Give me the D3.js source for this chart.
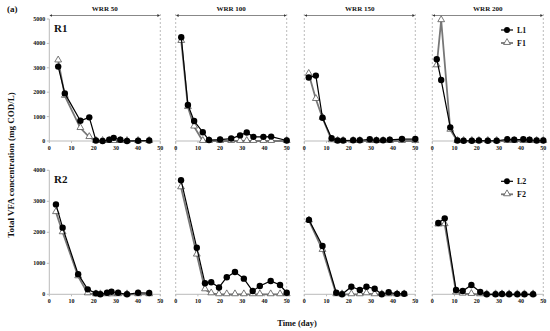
<!DOCTYPE html>
<html lang="en">
<head>
<meta charset="UTF-8">
<title>Total VFA concentration</title>
<script src="https://d3js.org/d3.v7.min.js"></script>
<style>
    body { margin: 0; background: #fff; }
    svg text { font-family: "Liberation Serif", "Times New Roman", serif; font-weight: bold; fill: #111; }
    .tick-label { font-size: 6px; }
    .axis-line { stroke: #bbb; stroke-width: 1px; }
    .divider { stroke: #aaa; stroke-width: 0.8px; stroke-dasharray: 2,2; }
    .line-L { fill: none; stroke: #000; stroke-width: 1.2px; }
    .line-F { fill: none; stroke: #777; stroke-width: 1.8px; }
</style>
</head>
<body>
<svg width="550" height="331"></svg>
<script>
    // phases (columns)
    const phases = ["WRR 50", "WRR 100", "WRR 150", "WRR 200"];
    const xTicks = [0, 10, 20, 30, 40, 50];
    const yTicksR1 = [0, 1000, 2000, 3000, 4000, 5000];
    const yTicksR2 = [0, 1000, 2000, 3000, 4000];

    // R1, WRR 50
    const r1w50Day = [4, 7, 14, 18, 21, 24, 27, 29, 32, 35, 40, 45];
    const r1w50L1 = [3050, 1950, 830, 970, 20, 0, 50, 130, 50, 0, 10, 20];
    const r1w50F1 = [3300, 1850, 530, 160, 0, 0, 0, 0, 0, 0, 0, 0];
    // R1, WRR 100
    const r1w100Day = [2.5, 5.5, 8.3, 12.2, 15, 20, 25, 29, 32, 35, 39.5, 43, 50];
    const r1w100L1 = [4250, 1480, 820, 360, 40, 60, 100, 230, 350, 170, 170, 180, 20];
    const r1w100F1 = [4100, 1390, 590, 0, 0, 0, 0, 0, 0, 0, 0, 0, 0];
    // R1, WRR 150
    const r1w150Day = [2, 5.2, 8.2, 12.3, 15, 17.5, 22, 25, 29.5, 32.5, 35.5, 38.5, 44, 50];
    const r1w150L1 = [2600, 2680, 950, 110, 20, 20, 30, 30, 70, 30, 30, 50, 80, 80];
    const r1w150F1 = [2750, 1720, 950, 30, 0, 0, 0, 0, 0, 0, 0, 0, 0, 0];
    // R1, WRR 200
    const r1w200Day = [2, 4, 8.1, 11.3, 14.1, 17.8, 21, 25, 29, 33.8, 36.9, 41, 43.8, 47, 50];
    const r1w200L1 = [3350, 2500, 560, 20, 10, 10, 20, 10, 10, 70, 50, 70, 50, 20, 20];
    const r1w200F1 = [3100, 4950, 460, 0, 0, 0, 0, 0, 0, 0, 0, 0, 0, 0, 0];

    // R2, WRR 50
    const r2w50Day = [3, 6, 13, 17.3, 21, 23, 26, 28, 31, 35, 40, 45];
    const r2w50L2 = [2900, 2150, 650, 160, 30, 0, 50, 80, 50, 0, 50, 40];
    const r2w50F2 = [2650, 2000, 580, 30, 0, 0, 0, 0, 0, 0, 0, 0];
    // R2, WRR 100
    const r2w100Day = [2.4, 9.5, 13.2, 16, 19.5, 23, 26.7, 30.7, 34.7, 37.9, 42.8, 47, 50];
    const r2w100L2 = [3680, 1500, 355, 390, 220, 550, 720, 505, 105, 270, 430, 300, 50];
    const r2w100F2 = [3450, 1280, 160, 30, 0, 0, 0, 0, 0, 0, 0, 0, 0];
    // R2, WRR 150
    const r2w150Day = [2.1, 8.2, 14.4, 17, 21.2, 25, 28, 31.7, 34.9, 38, 41.8, 45];
    const r2w150L2 = [2400, 1560, 50, 0, 245, 140, 245, 180, 0, 65, 15, 20];
    const r2w150F2 = [2380, 1430, 0, 0, 0, 0, 30, 0, 0, 0, 0, 0];
    // R2, WRR 200
    const r2w200Day = [2.7, 5.6, 10.7, 13.7, 17.6, 21.6, 24.5, 28.5, 31.4, 34.6, 38.3, 41.5, 45.4];
    const r2w200L2 = [2300, 2450, 140, 105, 300, 75, 0, 0, 10, 0, 0, 0, 0];
    const r2w200F2 = [2250, 2260, 60, 20, 10, 0, 0, 0, 0, 0, 0, 0, 0];

    const rows = [
        {name: "R1", top: 19, bottom: 141, max: 5000, ticks: yTicksR1, lName: "L1", fName: "F1",
            panels: [
                {day: r1w50Day, L: r1w50L1, F: r1w50F1},
                {day: r1w100Day, L: r1w100L1, F: r1w100F1},
                {day: r1w150Day, L: r1w150L1, F: r1w150F1},
                {day: r1w200Day, L: r1w200L1, F: r1w200F1}
            ]},
        {name: "R2", top: 170.3, bottom: 294.3, max: 4000, ticks: yTicksR2, lName: "L2", fName: "F2",
            panels: [
                {day: r2w50Day, L: r2w50L2, F: r2w50F2},
                {day: r2w100Day, L: r2w100L2, F: r2w100F2},
                {day: r2w150Day, L: r2w150L2, F: r2w150F2},
                {day: r2w200Day, L: r2w200L2, F: r2w200F2}
            ]}
    ];

    const colLeft = [49.3, 175.7, 304.3, 432.3];
    const colWidth = 111;

    const svg = d3.select("svg");

    svg.append("defs").selectAll("marker").data(["arrowL", "arrowR"]).join("marker")
        .attr("id", d => d)
        .attr("viewBox", "0 0 10 10")
        .attr("refX", 5).attr("refY", 5)
        .attr("markerWidth", 4).attr("markerHeight", 4)
        .attr("orient", d => d === "arrowL" ? "auto-start-reverse" : "auto")
        .append("path").attr("d", "M0,0L10,5L0,10z").attr("fill", "#333");

    // dashed phase dividers
    colLeft.forEach((x0, i) => {
        const xs = i === 0 ? [x0 + colWidth] : [x0, x0 + colWidth];
        xs.forEach(x => {
            svg.append("line").attr("class", "divider")
                .attr("x1", x).attr("x2", x).attr("y1", 14).attr("y2", 300);
        });
    });

    // phase arrows and labels
    phases.forEach((p, i) => {
        const x0 = colLeft[i];
        svg.append("line")
            .attr("x1", x0 + 1.5).attr("x2", x0 + colWidth - 1.5)
            .attr("y1", 15.5).attr("y2", 15.5)
            .attr("stroke", "#555").attr("stroke-width", 0.7)
            .attr("marker-start", "url(#arrowL)")
            .attr("marker-end", "url(#arrowR)");
        svg.append("text")
            .attr("x", x0 + colWidth / 2).attr("y", 11)
            .attr("text-anchor", "middle")
            .style("font-size", "7px")
            .text(p);
    });

    const lineGen = (x, y) => d3.line().x(d => x(d[0])).y(d => y(d[1]));
    const tri = d3.symbol().type(d3.symbolTriangle).size(20);

    rows.forEach(row => {
        const y = d3.scaleLinear().domain([0, row.max]).range([row.bottom, row.top]);

        // y axis (first column only)
        const x0 = colLeft[0];
        svg.append("line").attr("class", "axis-line")
            .attr("x1", x0).attr("x2", x0).attr("y1", y(row.max)).attr("y2", y(0));
        const yt = svg.append("g");
        row.ticks.forEach(t => {
            yt.append("line").attr("class", "axis-line")
                .attr("x1", x0 - 2.5).attr("x2", x0).attr("y1", y(t)).attr("y2", y(t));
            yt.append("text").attr("class", "tick-label")
                .attr("x", x0 - 4).attr("y", y(t) + 2)
                .attr("text-anchor", "end").text(t);
        });

        svg.append("text")
            .attr("x", 54).attr("y", row.top + 13)
            .style("font-size", "11px").text(row.name);

        row.panels.forEach((pn, i) => {
            const left = colLeft[i];
            const x = d3.scaleLinear().domain([0, 50]).range([left, left + colWidth]);
            const g = svg.append("g");

            g.append("line").attr("class", "axis-line")
                .attr("x1", x(0)).attr("x2", x(50)).attr("y1", y(0)).attr("y2", y(0));
            xTicks.forEach(t => {
                g.append("line").attr("class", "axis-line")
                    .attr("x1", x(t)).attr("x2", x(t)).attr("y1", y(0)).attr("y2", y(0) + 2);
                g.append("text").attr("class", "tick-label")
                    .attr("x", x(t)).attr("y", y(0) + 9)
                    .attr("text-anchor", "middle").text(t);
            });

            const fPts = pn.day.map((d, k) => [d, pn.F[k]]);
            const lPts = pn.day.map((d, k) => [d, pn.L[k]]);

            g.append("path").attr("class", "line-F").attr("d", lineGen(x, y)(fPts));
            g.selectAll(".tri").data(fPts).join("path")
                .attr("class", "tri")
                .attr("d", tri)
                .attr("transform", d => `translate(${x(d[0])},${y(d[1]) - 0.5})`)
                .attr("fill", "#fff").attr("stroke", "#555").attr("stroke-width", 0.8);

            g.append("path").attr("class", "line-L").attr("d", lineGen(x, y)(lPts));
            g.selectAll(".dot").data(lPts).join("circle")
                .attr("class", "dot")
                .attr("cx", d => x(d[0])).attr("cy", d => y(d[1]))
                .attr("r", 3.2).attr("fill", "#000");
        });

        // legend
        const lg = svg.append("g").attr("transform", `translate(501,${row.top + 11})`);
        lg.append("line").attr("x1", 0).attr("x2", 12).attr("y1", 0).attr("y2", 0)
            .attr("stroke", "#000").attr("stroke-width", 1.2);
        lg.append("circle").attr("cx", 6).attr("cy", 0).attr("r", 3).attr("fill", "#000");
        lg.append("text").attr("x", 16).attr("y", 3).style("font-size", "8px").text(row.lName);
        lg.append("line").attr("x1", 0).attr("x2", 12).attr("y1", 13).attr("y2", 13)
            .attr("stroke", "#777").attr("stroke-width", 1.8);
        lg.append("path").attr("d", tri).attr("transform", "translate(6,12.5)")
            .attr("fill", "#fff").attr("stroke", "#555").attr("stroke-width", 0.8);
        lg.append("text").attr("x", 16).attr("y", 16).style("font-size", "8px").text(row.fName);
    });

    svg.append("text").attr("x", 7).attr("y", 12).style("font-size", "9px").text("(a)");

    svg.append("text")
        .attr("transform", "translate(14,165) rotate(-90)")
        .attr("text-anchor", "middle")
        .style("font-size", "9px")
        .text("Total VFA concentration (mg COD/L)");

    svg.append("text")
        .attr("x", 297).attr("y", 326)
        .attr("text-anchor", "middle")
        .style("font-size", "8.5px")
        .text("Time (day)");
</script>
</body>
</html>
